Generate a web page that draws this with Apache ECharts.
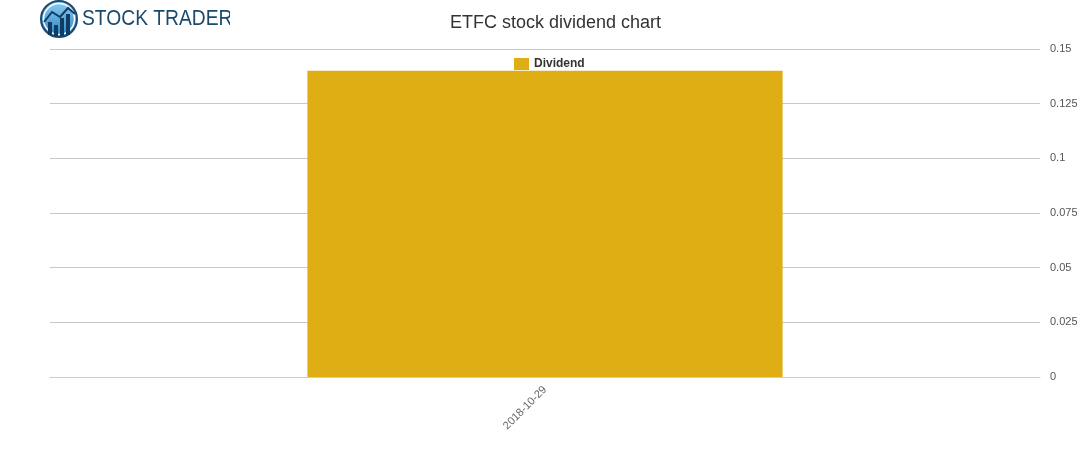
<!DOCTYPE html>
<html><head><meta charset="utf-8">
<script src="https://cdn.jsdelivr.net/npm/echarts@6/dist/echarts.min.js"></script>
<style>html,body{margin:0;padding:0;background:#fff}#c{width:1091px;height:450px}</style>
</head><body><div id="c"></div>
<script>
const categories = ['2018-10-29'];
const dividendValues = [0.14];
const seriesName = 'Dividend';
const titleText = 'ETFC stock dividend chart';

const chart = echarts.init(document.getElementById('c'));
chart.setOption({
  animation: false,
  backgroundColor: '#fff',
  title: { text: titleText, left: 445, top: 9, textStyle: { fontFamily: 'Liberation Sans, Arial', fontSize: 18, fontWeight: 'normal', color: '#333' } },
  legend: { data: [seriesName], top: 53, left: 509, itemWidth: 15, itemHeight: 12, itemGap: 6, icon: 'rect',
    textStyle: { fontFamily: 'Liberation Sans, Arial', fontSize: 12, fontWeight: 'bold', color: '#333' } },
  grid: { left: 50, right: 51, top: 49, bottom: 73 },
  xAxis: { type: 'category', data: categories,
    axisLine: { lineStyle: { color: '#c0d0e0' } }, axisTick: { show: false },
    axisLabel: { rotate: 45, color: '#666', fontFamily: 'Liberation Sans, Arial', fontSize: 11, margin: 11 } },
  yAxis: { type: 'value', position: 'right', min: 0, max: 0.15, interval: 0.025,
    axisLine: { show: false }, axisTick: { show: false },
    splitLine: { lineStyle: { color: '#c8c8c8' } },
    axisLabel: { color: '#555', fontFamily: 'Liberation Sans, Arial', fontSize: 11, margin: 10,
      formatter: v => String(+v.toFixed(3)) } },
  series: [{ name: seriesName, type: 'bar', data: dividendValues, barWidth: '48%', itemStyle: { color: '#DFAE14' } }],
  graphic: [
    { type: 'circle', shape: { cx: 59, cy: 19, r: 18 }, style: { fill: new echarts.graphic.LinearGradient(0,0,0,1,[{offset:0,color:'#8fd0f5'},{offset:1,color:'#2a7fc0'}]), stroke: '#1a4a6e', lineWidth: 2 }, z: 10 },
    { type: 'circle', shape: { cx: 59, cy: 19, r: 15.5 }, style: { fill: null, stroke: '#ffffff', lineWidth: 1.5 }, z: 11 },
    { type: 'rect', shape: { x: 48, y: 22, width: 4, height: 13 }, style: { fill: '#0f3c62' }, z: 11 },
    { type: 'rect', shape: { x: 54, y: 25, width: 4, height: 11 }, style: { fill: '#0f3c62' }, z: 11 },
    { type: 'rect', shape: { x: 60, y: 18, width: 4, height: 18 }, style: { fill: '#0f3c62' }, z: 11 },
    { type: 'rect', shape: { x: 66, y: 14, width: 4, height: 21 }, style: { fill: '#0f3c62' }, z: 11 },
    { type: 'polyline', shape: { points: [[44,22],[52,12],[60,17],[68,8],[75,14]] }, style: { stroke: '#0f3c62', lineWidth: 2, fill: null }, z: 11 },
    { type: 'text', x: 82, y: 8, scaleX: 0.875, style: { text: 'STOCK TRADERS', fill: '#1a4a6e', font: '22px "Liberation Sans", Arial' }, z: 10 },
    { type: 'rect', shape: { x: 230, y: 0, width: 40, height: 40 }, style: { fill: '#fff' }, z: 12 }
  ]
});
</script></body></html>
